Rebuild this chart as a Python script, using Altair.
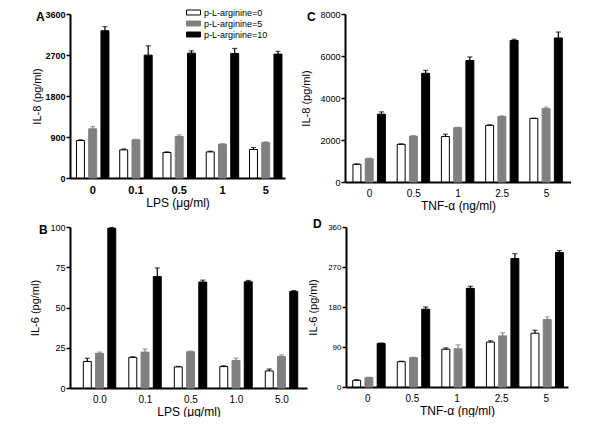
import altair as alt
import pandas as pd

FONT = "Liberation Sans"
series = ["p-L-arginine=0", "p-L-arginine=5", "p-L-arginine=10"]
fill_colors = ["#ffffff", "#808080", "#000000"]
stroke_colors = ["#000000", "#808080", "#000000"]

# Panel A: IL-8 vs LPS
a_cats = ["0", "0.1", "0.5", "1", "5"]
a_p0 = [823, 617, 559, 573, 625]
a_p5 = [1080, 838, 911, 742, 779]
a_p10 = [3234, 2697, 2741, 2734, 2720]
a_p0_err = [15, 20, 15, 15, 44]
a_p5_err = [50, 10, 37, 10, 15]
a_p10_err = [88, 205, 51, 110, 59]
a_ticks = [0, 900, 1800, 2700, 3600]

# Panel B: IL-6 vs LPS
b_cats = ["0.0", "0.1", "0.5", "1.0", "5.0"]
b_p0 = [16.5, 19.0, 13.1, 13.3, 10.6]
b_p5 = [21.5, 22.3, 22.5, 17.1, 19.6]
b_p10 = [99.2, 69.2, 65.8, 66.0, 60.0]
b_p0_err = [2.0, 0.4, 0.3, 0.5, 1.2]
b_p5_err = [0.8, 1.9, 0.4, 1.5, 1.0]
b_p10_err = [0.5, 5.4, 1.2, 0.8, 0.5]
b_ticks = [0, 25, 50, 75, 100]

# Panel C: IL-8 vs TNF-alpha
c_cats = ["0", "0.5", "1", "2.5", "5"]
c_p0 = [842, 1793, 2168, 2698, 3025]
c_p5 = [1107, 2183, 2589, 3119, 3493]
c_p10 = [3229, 5177, 5785, 6737, 6861]
c_p0_err = [20, 25, 109, 25, 15]
c_p5_err = [30, 30, 20, 30, 78]
c_p10_err = [109, 140, 170, 60, 280]
c_ticks = [0, 2000, 4000, 6000, 8000]

# Panel D: IL-6 vs TNF-alpha
d_cats = ["0", "0.5", "1", "2.5", "5"]
d_p0 = [15, 57, 85, 101, 121]
d_p5 = [21, 66, 86, 115, 152]
d_p10 = [98, 175, 222, 289, 302.5]
d_p0_err = [1.5, 1, 3, 3, 6.7]
d_p5_err = [1, 1, 9, 7, 6]
d_p10_err = [1, 5, 4.5, 11, 4.5]
d_ticks = [0, 90, 180, 270, 360]


def make_df(cats, vals, errs):
    rows = []
    for s, v, e in zip(series, vals, errs):
        for c, vi, ei in zip(cats, v, e):
            rows.append({"cat": c, "series": s, "value": vi, "top": vi + ei})
    return pd.DataFrame(rows)


def panel(df, cats, ticks, ylab, xlab, width, height, pi, po, align, letter,
          letter_dx, letter_dy, bold, ylab_size, xlab_size, title_pad,
          legend=False):
    weight = "bold" if bold else "normal"
    x = alt.X("cat:N", sort=cats,
              scale=alt.Scale(paddingInner=pi, paddingOuter=po, align=align),
              axis=alt.Axis(title=xlab, labelAngle=0, ticks=False,
                            labelFontSize=xlab_size, labelFontWeight=weight,
                            labelPadding=6, titleFontSize=12,
                            titleFontWeight="normal", titlePadding=2))
    xo = alt.XOffset("series:N", sort=series,
                     scale=alt.Scale(paddingInner=0.35, paddingOuter=0))
    yaxis = alt.Axis(title=ylab, values=ticks, format="d",
                     labelFontSize=ylab_size, labelFontWeight=weight,
                     labelOverlap=False, tickSize=4, labelPadding=1,
                     titleFontSize=11, titleFontWeight="normal",
                     titlePadding=title_pad)
    yscale = alt.Scale(domain=[ticks[0], ticks[-1]], nice=False, zero=True)
    y = alt.Y("value:Q", scale=yscale, axis=yaxis)
    if legend:
        leg = alt.Legend(title=None, orient="none", legendX=119, legendY=-6,
                         symbolType="M-1.75,-0.62L1.75,-0.62L1.75,0.62L-1.75,0.62Z",
                         symbolSize=64, symbolStrokeWidth=1,
                         labelFontSize=9, labelFont=FONT, rowPadding=1,
                         labelOffset=6, labelColor="black")
    else:
        leg = None
    color = alt.Color("series:N", sort=series,
                      scale=alt.Scale(domain=series, range=fill_colors),
                      legend=leg)
    stroke = alt.Stroke("series:N", sort=series,
                        scale=alt.Scale(domain=series, range=stroke_colors),
                        legend=leg)
    ecolor = alt.Color("series:N",
                       scale=alt.Scale(domain=series, range=stroke_colors),
                       legend=None)
    base = alt.Chart(df)
    bars = base.mark_bar(strokeWidth=1).encode(x=x, xOffset=xo, y=y,
                                                 fill=color, stroke=stroke)
    err = base.mark_rule(strokeWidth=1.2).encode(
        x=x, xOffset=xo, y=alt.Y("value:Q", scale=yscale, axis=yaxis),
        y2="top:Q", color=ecolor)
    cap = base.mark_tick(thickness=1.2, size=5).encode(
        x=x, xOffset=xo, y=alt.Y("top:Q", scale=yscale, axis=yaxis),
        color=ecolor)
    return alt.layer(bars, err, cap).properties(
        width=width, height=height,
        title=alt.TitleParams(letter, anchor="start", frame="group", dx=letter_dx,
                              dy=letter_dy, fontSize=12, fontWeight="bold",
                              font=FONT, offset=0))


pa = panel(make_df(a_cats, [a_p0, a_p5, a_p10], [a_p0_err, a_p5_err, a_p10_err]),
           a_cats, a_ticks, "IL-8 (pg/ml)", "LPS (\u03bcg/ml)", 215, 164,
           0.25, 0.11, 0.68, "A", -34, 14, True, 9, 11, 2, legend=True)
pc = panel(make_df(c_cats, [c_p0, c_p5, c_p10], [c_p0_err, c_p5_err, c_p10_err]),
           c_cats, c_ticks, "IL-8 (pg/ml)", "TNF-\u03b1 (ng/ml)", 226, 168,
           0.25, 0.18, 0.5, "C", -38, 14, False, 9, 10, 8)
pb = panel(make_df(b_cats, [b_p0, b_p5, b_p10], [b_p0_err, b_p5_err, b_p10_err]),
           b_cats, b_ticks, "IL-6 (pg/ml)", "LPS (\u03bcg/ml)", 237, 161,
           0.27, 0.24, 0.61, "B", -31, 14, False, 9, 10, 9)
pd_ = panel(make_df(d_cats, [d_p0, d_p5, d_p10], [d_p0_err, d_p5_err, d_p10_err]),
            d_cats, d_ticks, "IL-6 (pg/ml)", "TNF-\u03b1 (ng/ml)", 222, 160,
            0.32, 0.15, 0.5, "D", -33, 8, False, 8, 10, 9)

chart = alt.concat(
    alt.hconcat(pa, pc, spacing=15),
    alt.hconcat(pb, pd_, spacing=0),
    columns=1, spacing=7, align="none",
).properties(
    padding={"left": 21, "top": 0, "right": 0, "bottom": 0}
).configure_view(stroke=None).configure_axis(
    domainColor="black", domainWidth=2, tickColor="black", tickWidth=1.5,
    labelColor="black", titleColor="black", grid=False,
    labelFont=FONT, titleFont=FONT,
).configure_title(font=FONT, color="black")

chart.save("out.html", embed_options={"renderer": "svg", "actions": False})
